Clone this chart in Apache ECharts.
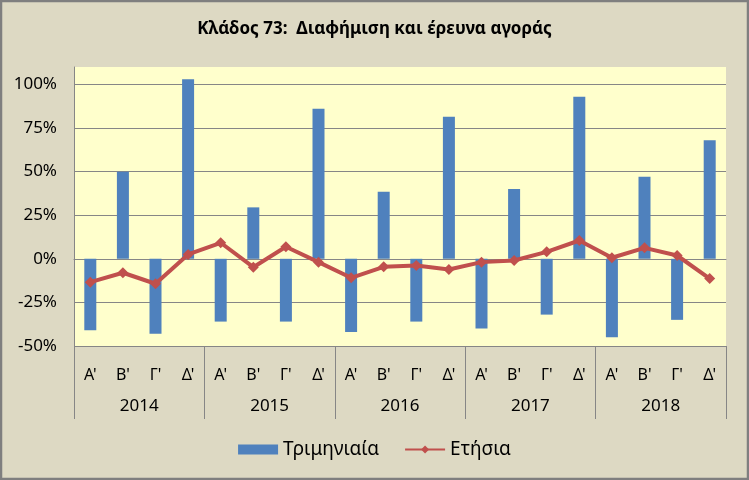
<!DOCTYPE html>
<html><head><meta charset="utf-8">
<script src="https://cdn.jsdelivr.net/npm/echarts@6/dist/echarts.min.js"></script>
<style>html,body{margin:0;padding:0;background:#DDD9C3}#main{width:749px;height:480px}</style>
</head><body><div id="main"></div>
<script>
const quarters = ["Α'","Β'","Γ'","Δ'","Α'","Β'","Γ'","Δ'","Α'","Β'","Γ'","Δ'","Α'","Β'","Γ'","Δ'","Α'","Β'","Γ'","Δ'"];
const years = ["2014","2015","2016","2017","2018"];
const quarterly = [-0.41,0.50,-0.43,1.03,-0.36,0.295,-0.36,0.86,-0.42,0.385,-0.36,0.815,-0.40,0.40,-0.32,0.93,-0.45,0.47,-0.35,0.68];
const annual = [-0.134,-0.08,-0.143,0.025,0.092,-0.048,0.069,-0.019,-0.109,-0.046,-0.038,-0.061,-0.019,-0.01,0.04,0.105,0.006,0.063,0.019,-0.113];
const yTicks = [-0.5,-0.25,0,0.25,0.5,0.75,1.0];
const seriesNames = ["Τριμηνιαία","Ετήσια"];
const titleText = "Κλάδος 73:  Διαφήμιση και έρευνα αγοράς";

const FONT = "'Noto Sans', sans-serif";
const chart = echarts.init(document.getElementById('main'), null, {renderer:'canvas'});
chart.setOption({
  backgroundColor: '#DDD9C3',
  animation: false,
  textStyle: {fontFamily: FONT},
  graphic: [{type:'rect', shape:{x:1,y:1,width:747,height:478}, style:{fill:'none', stroke:'#7F7F7F', lineWidth:2.5}, silent:true, z:100}],
  title: {text: titleText, left: 'center', top: 16, textStyle:{fontFamily:FONT, fontSize:17, fontWeight:'bold', color:'#000'}},
  legend: {top: 435, left: 'center', itemWidth: 40, itemHeight: 10, itemGap: 25,
    textStyle:{fontFamily:FONT, fontSize:19, color:'#000'},
    data:[{name:seriesNames[0], icon:'rect'}, {name:seriesNames[1]}]},
  grid: {left: 74, right: 23, top: 67, bottom: 134, show: true, backgroundColor:'#FFFFCC', borderWidth:0},
  xAxis: [
    {type:'category', data: quarters, axisLine:{show:true, lineStyle:{color:'#868686', width:1}}, axisTick:{show:false},
     axisLabel:{fontFamily:FONT, fontSize:16, color:'#000', margin:21, interval:0}},
    {type:'category', data: years, position:'bottom', offset:73, axisLine:{show:false},
     axisTick:{show:true, inside:true, length:73, lineStyle:{color:'#868686', width:1}},
     axisLabel:{inside:true, fontFamily:FONT, fontSize:17, color:'#000', margin:4}}
  ],
  yAxis: {type:'value', min:-0.5, max:1.1, interval:0.25,
    axisLine:{show:true, lineStyle:{color:'#868686'}}, axisTick:{show:false},
    axisLabel:{showMaxLabel:false, fontFamily:FONT, fontSize:17, color:'#000', margin:17,
      formatter: v => yTicks.some(t => Math.abs(t - v) < 1e-9) ? Math.round(v*100) + '%' : ''},
    splitLine:{show:true, showMaxLine:false, lineStyle:{color:'#868686', width:1}}},
  series: [
    {name: seriesNames[0], type:'bar', data: quarterly, barWidth: 12, itemStyle:{color:'#4F81BD'}, xAxisIndex:0},
    {name: seriesNames[1], type:'line', data: annual, xAxisIndex:0, symbol:'diamond', symbolSize:11,
     lineStyle:{color:'#C0504D', width:4}, itemStyle:{color:'#C0504D'}, z:5}
  ]
});
</script></body></html>
